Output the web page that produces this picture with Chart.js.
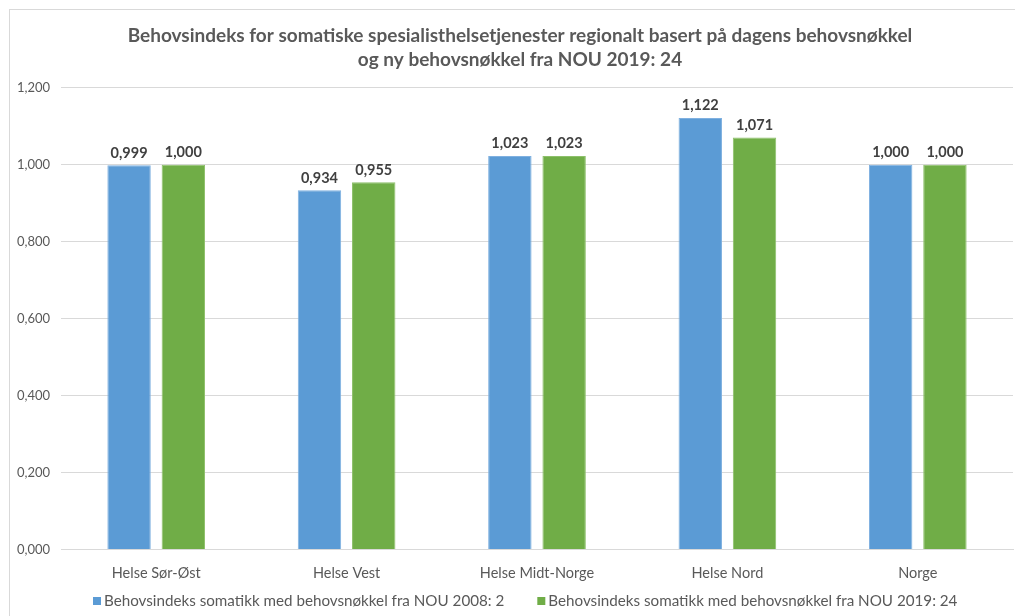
<!DOCTYPE html>
<html>
<head>
<meta charset="utf-8">
<script src="https://cdn.jsdelivr.net/npm/chart.js@4.4.0/dist/chart.umd.min.js"></script>
<style>
  html, body { margin: 0; padding: 0; background: #fff; overflow: hidden; }
  #frame { position: absolute; left: 9px; top: 9px; width: 1100px; height: 700px;
           border-left: 1px solid #d9d9d9; border-top: 1px solid #d9d9d9; }
  #wrap { position: absolute; left: 10px; top: 10px; width: 1020px; height: 606px; }
</style>
</head>
<body>
<div id="frame"></div>
<div id="wrap"><canvas id="c" width="1020" height="606"></canvas></div>
<script>
const categories = ['Helse Sør-Øst', 'Helse Vest', 'Helse Midt-Norge', 'Helse Nord', 'Norge'];
const seriesNames = [
  'Behovsindeks somatikk med behovsnøkkel fra NOU 2008: 2',
  'Behovsindeks somatikk med behovsnøkkel fra NOU 2019: 24'
];
const valuesNOU2008 = [0.999, 0.934, 1.023, 1.122, 1.000];
const valuesNOU2019 = [1.000, 0.955, 1.023, 1.071, 1.000];
const yTicks = [0, 0.2, 0.4, 0.6, 0.8, 1.0, 1.2];
const seriesColors = ['#5B9BD5', '#70AD47'];

const fmt = v => v.toFixed(3).replace('.', ',');
const FONT = 'Lato, "Open Sans", sans-serif';

const valueLabels = {
  id: 'valueLabels',
  afterDatasetsDraw(chart) {
    const ctx = chart.ctx;
    ctx.save();
    ctx.font = 'bold 14.5px ' + FONT;
    ctx.fillStyle = '#404040';
    ctx.textAlign = 'center';
    ctx.textBaseline = 'bottom';
    chart.data.datasets.forEach((ds, i) => {
      chart.getDatasetMeta(i).data.forEach((bar, j) => {
        ctx.fillText(fmt(ds.data[j]), bar.x, bar.y - 5);
      });
    });
    ctx.restore();
  }
};

// Legend drawn at the bottom, built from the datasets
const bottomLegend = {
  id: 'bottomLegend',
  afterDraw(chart) {
    const ctx = chart.ctx;
    ctx.save();
    ctx.font = '15.2px ' + FONT;
    ctx.textBaseline = 'middle';
    ctx.textAlign = 'left';
    const y = 591;
    let x = 83;
    chart.data.datasets.forEach(ds => {
      ctx.fillStyle = ds.backgroundColor;
      ctx.fillRect(x, y - 4, 8, 8);
      x += 11;
      ctx.fillStyle = '#595959';
      ctx.fillText(ds.label, x, y);
      x += ctx.measureText(ds.label).width + 33;
    });
    ctx.restore();
  }
};

new Chart(document.getElementById('c'), {
  type: 'bar',
  data: {
    labels: categories,
    datasets: [
      { label: seriesNames[0], data: valuesNOU2008, backgroundColor: seriesColors[0],
        borderColor: '#7FB0E0', borderWidth: 1, barPercentage: 0.8, categoryPercentage: 0.57 },
      { label: seriesNames[1], data: valuesNOU2019, backgroundColor: seriesColors[1],
        borderColor: '#8DC06A', borderWidth: 1, barPercentage: 0.8, categoryPercentage: 0.57 }
    ]
  },
  options: {
    responsive: false,
    animation: false,
    layout: { padding: { left: 0, right: 0, top: 0, bottom: 19 } },
    plugins: {
      title: {
        display: true,
        text: ['Behovsindeks for somatiske spesialisthelsetjenester regionalt basert på dagens behovsnøkkel',
               'og ny behovsnøkkel fra NOU 2019: 24'],
        color: '#595959',
        font: { family: FONT, size: 19, weight: 'bold', lineHeight: 1.26 },
        padding: { top: 14, bottom: 16 }
      },
      legend: { display: false },
      tooltip: { enabled: false }
    },
    scales: {
      x: {
        grid: { display: false, drawTicks: false },
        border: { display: true, color: '#d9d9d9' },
        ticks: { color: '#595959', font: { family: FONT, size: 14.5 }, padding: 15 }
      },
      y: {
        min: 0, max: 1.2,
        afterBuildTicks(scale) { scale.ticks = yTicks.map(v => ({ value: v })); },
        afterFit(scale) { scale.width = 51; },
        grid: { color: '#d9d9d9', drawTicks: false },
        border: { display: false },
        ticks: { color: '#595959', font: { family: FONT, size: 13 }, padding: 11,
                 callback: v => fmt(v) }
      },
      spacer: {
        type: 'linear', position: 'right', display: true,
        afterFit(scale) { scale.width = 17; },
        grid: { display: false, drawTicks: false },
        border: { display: false },
        ticks: { display: false }
      }
    }
  },
  plugins: [valueLabels, bottomLegend]
});
</script>
</body>
</html>
